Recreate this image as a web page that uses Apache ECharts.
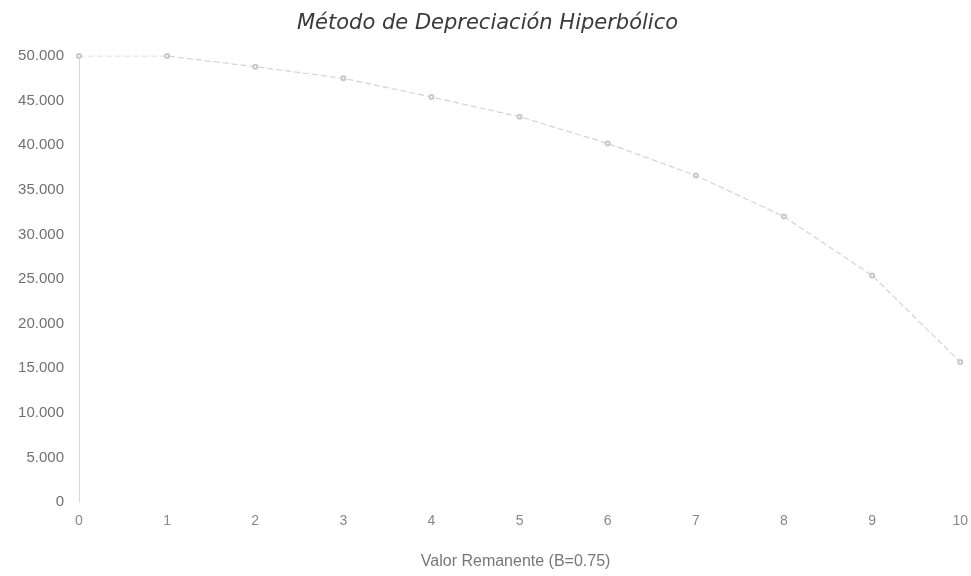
<!DOCTYPE html>
<html>
<head>
<meta charset="utf-8">
<script src="https://cdn.jsdelivr.net/npm/echarts@6/dist/echarts.min.js"></script>
<style>
  html, body { margin: 0; padding: 0; background: #fff; }
  #container { width: 971px; height: 576px; }
</style>
</head>
<body>
<div id="container"></div>
<script>
// años y valor remanente
var years = [0, 1, 2, 3, 4, 5, 6, 7, 8, 9, 10];
var valorRemanente = [50000, 50000, 48800, 47500, 45400, 43200, 40200, 36600, 32000, 25400, 15700];

var fmtMiles = function (v) {
    return String(v).replace(/\B(?=(\d{3})+(?!\d))/g, '.');
};

var dom = document.getElementById("container");
var myChart = echarts.init(dom);
var option = {
    backgroundColor: '#fff',
    animation: false,
    title: {
        text: 'Método de Depreciación Hiperbólico',
        left: 292,
        top: 8,
        textStyle: {
            fontFamily: 'DejaVu Sans',
            fontStyle: 'italic',
            fontWeight: 'normal',
            fontSize: 21,
            color: '#3a3a3a'
        }
    },
    grid: { left: 79, right: 9, top: 56, bottom: 74 },
    xAxis: {
        type: 'value',
        min: 0,
        max: 10,
        interval: 1,
        name: 'Valor Remanente (B=0.75)',
        nameLocation: 'middle',
        nameGap: 52,
        nameTextStyle: { color: '#777', fontSize: 16, fontFamily: 'Liberation Sans', padding: [0, 8, 0, 0] },
        axisLine: { show: false },
        axisTick: { show: false },
        splitLine: { show: false },
        axisLabel: { color: '#888', fontSize: 14, margin: 12, fontFamily: 'Liberation Sans' }
    },
    yAxis: {
        type: 'value',
        min: 0,
        max: 50000,
        interval: 5000,
        axisLine: { show: true, lineStyle: { color: '#d8d8d8' } },
        axisTick: { show: false },
        splitLine: { show: false },
        axisLabel: {
            color: '#707070',
            fontSize: 15,
            margin: 15,
            fontFamily: 'Liberation Sans',
            formatter: fmtMiles
        }
    },
    series: [
        {
            type: 'line',
            data: years.map(function (y, i) { return [y, valorRemanente[i]]; }),
            smooth: false,
            symbol: 'emptyCircle',
            symbolSize: 4,
            itemStyle: { color: '#c8c8c8', borderColor: '#c0c0c0' },
            lineStyle: { color: '#d4d4d4', width: 1.2, type: [6, 3] }
        }
    ]
};
myChart.setOption(option, true);
</script>
</body>
</html>
